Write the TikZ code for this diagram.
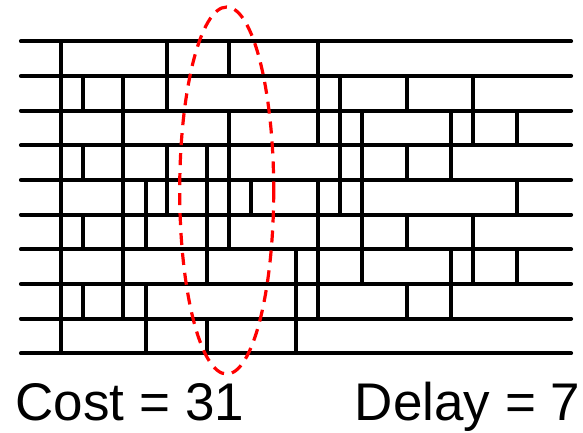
\documentclass[tikz,border=0pt]{standalone}
\usepackage{fontspec}
\setmainfont{Liberation Sans}
\begin{document}
\begin{tikzpicture}[x=1pt,y=-1pt,
  wire/.style={line width=4.2pt,line cap=round},
  link/.style={line width=3.8pt},
  ring/.style={red,line width=3.2pt,dash pattern=on 12pt off 8pt},
  label/.style={font=\fontsize{53}{60}\selectfont,inner sep=0pt,anchor=base west}]
\useasboundingbox (0,0) rectangle (583,432);
% horizontal wires
\foreach \i in {0,...,9}{
  \draw[wire] (21,{41.3+34.67*\i}) -- (571,{41.3+34.67*\i});
}
% vertical links: row index / x positions
\foreach \r/\xs in {
  0/{61.3,167.3,229.3,317.7},
  1/{61.3,83.3,123.3,167.3,317.7,340,406.7,472.7},
  2/{61.3,123.3,229.3,317.7,340,362.3,450.7,472.7,517.3},
  3/{61.3,83.3,123.3,167.3,207.3,229.3,340,362.3,406.7,450.7},
  4/{61.3,123.3,145.7,167.3,207.3,229.3,251.3,317.7,340,362.3,517.3},
  5/{61.3,83.3,123.3,145.7,207.3,229.3,317.7,362.3,406.7,472.7},
  6/{61.3,123.3,207.3,296,317.7,362.3,450.7,472.7,517.3},
  7/{61.3,83.3,123.3,145.7,296,317.7,406.7,450.7},
  8/{61.3,145.7,207.3,296}}{
  \foreach \x in \xs {
    \draw[link] (\x,{41.3+34.67*\r}) -- (\x,{41.3+34.67*(\r+1)});
  }
}
% highlighted region
\draw[ring] (226.7,190.5) ellipse [x radius=47, y radius=183.5];
% labels
\node[label] (cost) at (15.5,420.5) {Cost = 31};
\node[label,anchor=base east] (delay) at (580.5,420.5) {Delay = 7};
\end{tikzpicture}
\end{document}
